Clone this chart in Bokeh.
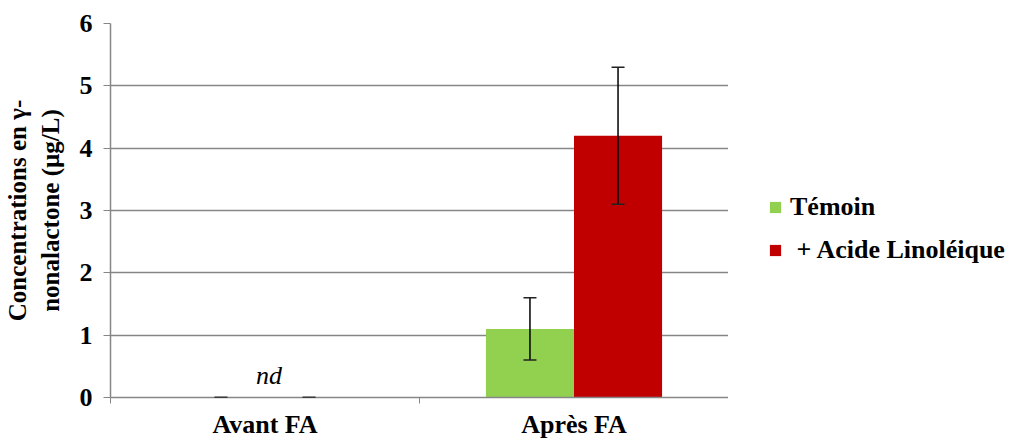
from bokeh.plotting import figure
from bokeh.layouts import row
from bokeh.models import Range1d, FixedTicker, ColumnDataSource, Whisker, Legend, LegendItem, Label
from bokeh.embed import file_html
from bokeh.resources import INLINE

categories = ["Avant FA", "Après FA"]
series = ["Témoin", " + Acide Linoléique"]
temoin = [0.0, 1.1]
temoin_err = [0.0, 0.5]
acide = [0.0, 4.2]
acide_err = [0.0, 1.1]
colors = ["#92D050", "#C00000"]
y_ticks = [0, 1, 2, 3, 4, 5, 6]

FONT = "Liberation Serif"
FS = "26px"
H = 441
p = figure(width=728, height=H, output_backend="svg", toolbar_location=None,
           x_range=Range1d(0, len(categories)), y_range=Range1d(0, 6))
p.min_border_left = 110
p.min_border_right = 0
p.min_border_top = 23
p.min_border_bottom = 43
p.outline_line_color = None
p.background_fill_color = "white"
p.border_fill_color = "white"

bw = 0.285
for k, (vals, errs, col) in enumerate(zip([temoin, acide], [temoin_err, acide_err], colors)):
    off = (k - 0.5) * bw
    xs = [i + 0.5 + off for i in range(len(categories))]
    src = ColumnDataSource(dict(x=xs, top=vals,
                                lo=[v - e for v, e in zip(vals, errs)],
                                hi=[v + e for v, e in zip(vals, errs)]))
    p.vbar(x="x", top="top", bottom=0, width=bw, source=src,
           fill_color=col, line_color=None)
    w = Whisker(base="x", lower="lo", upper="hi", source=src,
                line_color="black", line_width=1.5, level="overlay")
    for h in (w.upper_head, w.lower_head):
        h.size = 13
        h.line_color = "#222222"
        h.line_width = 1.5
    p.add_layout(w)

# x axis
xa = p.xaxis[0]
xa.ticker = FixedTicker(ticks=[i + 0.5 for i in range(len(categories))],
                        minor_ticks=list(range(len(categories) + 1)))
xa.major_label_overrides = {i + 0.5: c for i, c in enumerate(categories)}
xa.major_tick_out = 0
xa.major_tick_in = 0
xa.minor_tick_out = 6
xa.minor_tick_in = 0
xa.minor_tick_line_color = "#868686"
xa.axis_line_color = "#868686"
xa.axis_line_width = 1.5
xa.major_label_text_font = FONT
xa.major_label_text_font_style = "bold"
xa.major_label_text_font_size = FS
xa.major_label_text_color = "black"
xa.major_label_standoff = 6

# y axis
ya = p.yaxis[0]
ya.ticker = FixedTicker(ticks=y_ticks)
ya.minor_tick_line_color = None
ya.major_tick_out = 7
ya.major_tick_in = 0
ya.major_tick_line_color = "#868686"
ya.axis_line_color = "#868686"
ya.axis_line_width = 1.5
ya.major_label_text_font = FONT
ya.major_label_text_font_style = "bold"
ya.major_label_text_font_size = FS
ya.major_label_text_color = "black"
ya.major_label_standoff = 11
ya.axis_label = "Concentrations en γ-\nnonalactone (µg/L)"
ya.axis_label_text_font = FONT
ya.axis_label_text_font_style = "bold"
ya.axis_label_text_font_size = "25px"
ya.axis_label_text_color = "black"
ya.axis_label_standoff = 13

p.xgrid.grid_line_color = None
p.ygrid.grid_line_color = "#868686"
p.ygrid.grid_line_width = 1.5

p.add_layout(Label(x=0.5, y=0.35, text="nd", text_font=FONT, text_font_style="italic",
                   text_font_size=FS, text_align="center", x_offset=4,
                   text_baseline="alphabetic", text_color="black"))

# legend panel (zero-height glyph renderers: only the legend itself shows)
q = figure(width=283, height=H, output_backend="svg", toolbar_location=None,
           x_range=Range1d(0, 1), y_range=Range1d(0, 1),
           x_axis_location=None, y_axis_location=None)
q.min_border = 0
q.outline_line_color = None
q.grid.grid_line_color = None
q.border_fill_color = "white"
leg_renderers = []
for col in colors:
    leg_renderers.append(q.vbar(x=[0.5], top=[0], bottom=[0], width=0.1,
                                fill_color=col, line_color=None))

legend = Legend(items=[LegendItem(label=s, renderers=[r]) for s, r in zip(series, leg_renderers)],
                location=(40, 132), orientation="vertical")
legend.border_line_color = None
legend.background_fill_alpha = 0
legend.padding = 0
legend.margin = 0
legend.glyph_width = 14
legend.glyph_height = 14
legend.label_height = 30
legend.spacing = 13
legend.label_standoff = 8
legend.label_text_font = FONT
legend.label_text_font_style = "bold"
legend.label_text_font_size = FS
legend.label_text_color = "black"
q.add_layout(legend, "center")

layout = row(p, q, spacing=0)
open("out.html", "w").write(file_html(layout, INLINE))
